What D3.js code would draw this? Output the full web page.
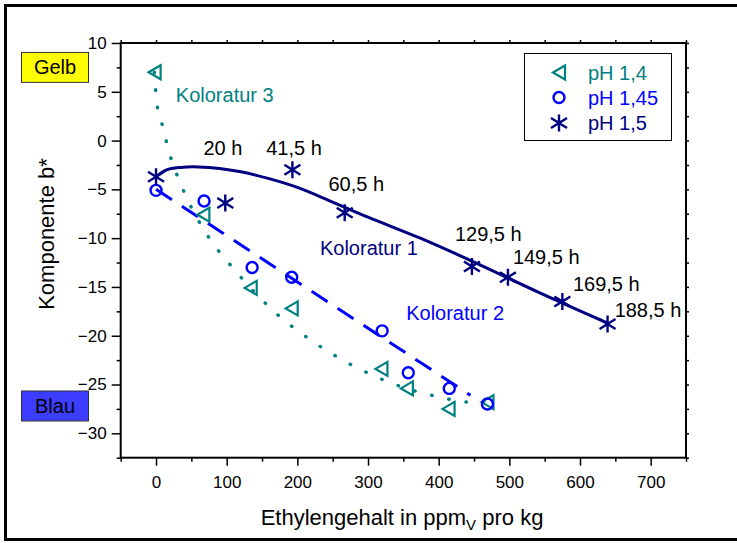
<!DOCTYPE html>
<html>
<head>
<meta charset="utf-8">
<script src="https://cdn.jsdelivr.net/npm/d3@7"></script>
<style>
  body { margin: 0; background: #fff; }
  svg { display: block; }
  text { font-family: "Liberation Sans", Arial, sans-serif; }
</style>
</head>
<body>
<div id="chart"></div>
<script>
// --------------------------------------
// Data (x: ppm_V pro kg, y: Komponente b*)
const ph14X = [-2, 67, 134, 192, 319, 355, 414, 469];
const ph14Y = [7.0, -7.6, -15.1, -17.2, -23.4, -25.4, -27.5, -26.8];

const ph145X = [0, 68, 136, 192, 320, 357, 415, 469];
const ph145Y = [-5.1, -6.2, -13.0, -14.0, -19.5, -23.8, -25.4, -27.0];

const ph15X = [0, 98, 193, 267, 447, 498, 575, 639];
const ph15Y = [-3.7, -6.4, -3.0, -7.4, -12.9, -14.0, -16.5, -18.8];

// Fitted curves
const fit1X = [0, 15, 35, 60, 90, 120, 160, 200, 250, 300, 374, 447, 540, 639];
const fit1Y = [-3.7, -3.0, -2.75, -2.7, -2.85, -3.2, -3.9, -4.8, -6.3, -7.85, -10.0, -12.35, -15.5, -18.7];
const fit2X = [0, 445];
const fit2Y = [-5.0, -26.1];
const fit3X = [-2.4, 1.8, 8.1, 19.8, 36.4, 74, 109.4, 173, 218, 285, 331, 402, 444, 467];
const fit3Y = [7.0, 3.5, 1.8, -1.5, -4.7, -9.85, -13.1, -17.9, -20.4, -23.3, -24.8, -26.3, -26.8, -26.7];

// Time annotations for the pH 1,5 series (anchored in data units)
const timeLabels = ["20 h", "41,5 h", "60,5 h", "129,5 h", "149,5 h", "169,5 h", "188,5 h"];
const timeLabelX = [67, 156, 244, 423, 505, 590, 649];
const timeLabelY = [-1.5, -1.5, -5.2, -10.3, -12.6, -15.4, -18.1];

const curveNames = ["Koloratur 1", "Koloratur 2", "Koloratur 3"];
const curveNameX = [232, 354, 28];
const curveNameY = [-11.7, -18.35, 4.0];

const seriesNames = ["pH 1,4", "pH 1,45", "pH 1,5"];
const seriesColors = ["#008080", "#0000ff", "#000080"];

const xMajor = [0, 100, 200, 300, 400, 500, 600, 700];
const xMinor = [-50, 50, 150, 250, 350, 450, 550, 650, 750];
const yMajor = [-30, -25, -20, -15, -10, -5, 0, 5, 10];
const yMinor = [-32.5, -27.5, -22.5, -17.5, -12.5, -7.5, -2.5, 2.5, 7.5];

// --------------------------------------
const width = 737, height = 543;
const svg = d3.select("#chart").append("svg")
    .attr("width", width)
    .attr("height", height);

// outer frame (right edge runs off the picture)
svg.append("rect")
    .attr("x", 5.5).attr("y", 5.5)
    .attr("width", 736).attr("height", 534)
    .attr("fill", "none")
    .attr("stroke", "#000")
    .attr("stroke-width", 3);

const x = d3.scaleLinear().domain([-50, 750]).range([120.7, 686]);
const y = d3.scaleLinear().domain([-32.5, 10]).range([457.7, 43]);

// --------------------------------------
// Axes
function styleAxis(g) {
    g.select(".domain").remove();
    g.selectAll(".tick line").attr("stroke", "#000").attr("stroke-width", 1.5);
    g.selectAll(".tick text").attr("fill", "#000").style("font-size", "17px");
}
svg.append("g").attr("transform", `translate(0,${y.range()[0]})`)
    .call(d3.axisBottom(x).tickValues(xMajor).tickSize(8).tickPadding(10))
    .call(styleAxis);
svg.append("g").attr("transform", `translate(0,${y.range()[0]})`)
    .call(d3.axisBottom(x).tickValues(xMinor).tickSize(4).tickFormat(""))
    .call(styleAxis);
svg.append("g").attr("transform", `translate(${x.range()[0]},0)`)
    .call(d3.axisLeft(y).tickValues(yMajor).tickSize(9).tickPadding(5))
    .call(styleAxis);
svg.append("g").attr("transform", `translate(${x.range()[0]},0)`)
    .call(d3.axisLeft(y).tickValues(yMinor).tickSize(4).tickFormat(""))
    .call(styleAxis);
// mirror ticks on top and right
svg.append("g").attr("transform", `translate(0,${y.range()[1]})`)
    .call(d3.axisTop(x).tickValues(xMajor.concat(xMinor)).tickSize(3).tickFormat(""))
    .call(styleAxis);
svg.append("g").attr("transform", `translate(${x.range()[1]},0)`)
    .call(d3.axisRight(y).tickValues(yMajor.concat(yMinor)).tickSize(3).tickFormat(""))
    .call(styleAxis);

svg.append("rect")
    .attr("x", x.range()[0]).attr("y", y.range()[1])
    .attr("width", x.range()[1] - x.range()[0])
    .attr("height", y.range()[0] - y.range()[1])
    .attr("fill", "none")
    .attr("stroke", "#000")
    .attr("stroke-width", 2);

// axis titles
const xTitle = svg.append("text")
    .attr("x", 402).attr("y", 525)
    .attr("text-anchor", "middle")
    .style("font-size", "22px");
xTitle.append("tspan").text("Ethylengehalt in ppm");
xTitle.append("tspan").attr("dy", 5).style("font-size", "15px").text("V");
xTitle.append("tspan").attr("dy", -5).text(" pro kg");

svg.append("text")
    .attr("transform", "translate(54,234) rotate(-90)")
    .attr("text-anchor", "middle")
    .style("font-size", "22px")
    .text("Komponente b*");

// Gelb / Blau boxes
const colourBoxes = [
    { label: "Gelb", fill: "#ffff00", yv: 7.5 },
    { label: "Blau", fill: "#3d3dff", yv: -27.2 }
];
colourBoxes.forEach(b => {
    const cy = y(b.yv);
    svg.append("rect")
        .attr("x", 21.5).attr("y", cy - 15)
        .attr("width", 67).attr("height", 30)
        .attr("fill", b.fill)
        .attr("stroke", "#333")
        .attr("stroke-width", 1);
    svg.append("text")
        .attr("x", 55).attr("y", cy + 7)
        .attr("text-anchor", "middle")
        .style("font-size", "20px")
        .text(b.label);
});

// --------------------------------------
// Curves
const line = d3.line().x(d => x(d[0])).y(d => y(d[1]));
svg.append("path")
    .datum(d3.zip(fit3X, fit3Y))
    .attr("d", line.curve(d3.curveMonotoneX))
    .attr("fill", "none")
    .attr("stroke", seriesColors[0])
    .attr("stroke-width", 3.4)
    .attr("stroke-linecap", "round")
    .attr("stroke-dasharray", "0.5,17");
svg.append("path")
    .datum(d3.zip(fit2X, fit2Y))
    .attr("d", line.curve(d3.curveLinear))
    .attr("fill", "none")
    .attr("stroke", seriesColors[1])
    .attr("stroke-width", 3)
    .attr("stroke-dasharray", "19,12");
svg.append("path")
    .datum(d3.zip(fit1X, fit1Y))
    .attr("d", line.curve(d3.curveCatmullRom.alpha(0.5)))
    .attr("fill", "none")
    .attr("stroke", seriesColors[2])
    .attr("stroke-width", 3);

// --------------------------------------
// Markers
const triPath = "M-6,0L6,-7L6,7Z";
const starPath = "M0,-8.5L0,8.5M-8,-5L8,5M-8,5L8,-5";
function drawTri(g, px, py) {
    g.append("path").attr("d", triPath)
        .attr("transform", `translate(${px},${py})`)
        .attr("fill", "none").attr("stroke", seriesColors[0]).attr("stroke-width", 2.2);
}
function drawCircle(g, px, py) {
    g.append("circle").attr("cx", px).attr("cy", py).attr("r", 5.5)
        .attr("fill", "none").attr("stroke", seriesColors[1]).attr("stroke-width", 2.4);
}
function drawStar(g, px, py) {
    g.append("path").attr("d", starPath)
        .attr("transform", `translate(${px},${py})`)
        .attr("fill", "none").attr("stroke", seriesColors[2]).attr("stroke-width", 2.4);
}
const marks = svg.append("g");
ph14X.forEach((v, i) => drawTri(marks, x(v), y(ph14Y[i])));
ph145X.forEach((v, i) => drawCircle(marks, x(v), y(ph145Y[i])));
ph15X.forEach((v, i) => drawStar(marks, x(v), y(ph15Y[i])));

// --------------------------------------
// Annotations
timeLabels.forEach((t, i) => {
    svg.append("text")
        .attr("x", x(timeLabelX[i])).attr("y", y(timeLabelY[i]))
        .style("font-size", "20px")
        .attr("fill", "#000")
        .text(t);
});
const curveColors = [seriesColors[2], seriesColors[1], seriesColors[0]];
curveNames.forEach((t, i) => {
    svg.append("text")
        .attr("x", x(curveNameX[i])).attr("y", y(curveNameY[i]))
        .style("font-size", "20px")
        .attr("fill", curveColors[i])
        .text(t);
});

// --------------------------------------
// Legend
const legend = svg.append("g");
legend.append("rect")
    .attr("x", 524.5).attr("y", 53.5)
    .attr("width", 147).attr("height", 87)
    .attr("fill", "#fff")
    .attr("stroke", "#000")
    .attr("stroke-width", 1);
const legendRows = [72.5, 97.5, 123];
const drawers = [drawTri, drawCircle, drawStar];
seriesNames.forEach((s, i) => {
    drawers[i](legend, 559, legendRows[i]);
    legend.append("text")
        .attr("x", 588).attr("y", legendRows[i] + 7)
        .style("font-size", "20px")
        .attr("fill", seriesColors[i])
        .text(s);
});
</script>
</body>
</html>
